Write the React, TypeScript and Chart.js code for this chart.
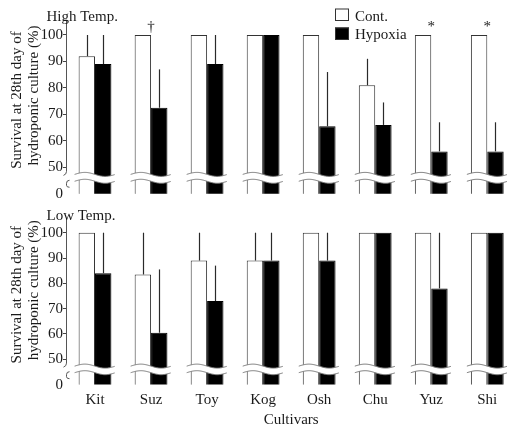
import React, { useEffect, useRef } from 'react';
import { Chart, registerables } from 'chart.js';

Chart.register(...registerables);

// ---------- data ----------
const cultivars = ['Kit', 'Suz', 'Toy', 'Kog', 'Osh', 'Chu', 'Yuz', 'Shi'];
const seriesNames = ['Cont.', 'Hypoxia'];

const highTempCont = [92, 100, 100, 100, 100, 81, 100, 100];
const highTempContErr = [8, 0, 0, 0, 0, 10, 0, 0];
const highTempHyp = [89, 72.5, 89, 100, 65.5, 66, 56, 56];
const highTempHypErr = [11, 14.5, 11, 0, 20.5, 8.5, 11, 11];
const highTempMarks = ['', '†', '', '', '', '', '*', '*'];

const lowTempCont = [100, 83.5, 89, 89, 100, 100, 100, 100];
const lowTempContErr = [0, 16.5, 11, 11, 0, 0, 0, 0];
const lowTempHyp = [84, 60.5, 73, 89, 89, 100, 78, 100];
const lowTempHypErr = [16, 25, 14, 11, 11, 0, 22, 0];
const lowTempMarks = ['', '', '', '', '', '', '', ''];

// 40 is where the broken axis shows its "0"
const yTickValues = [40, 50, 60, 70, 80, 90, 100];
const yTickLabels = ['0', '50', '60', '70', '80', '90', '100'];
const yAxisTitle = ['Survival at 28th day of', 'hydroponic culture (%)'];
const xAxisTitle = 'Cultivars';
const panelTitles = ['High Temp.', 'Low Temp.'];

// ---------- style ----------
const FONT = "'Liberation Serif', 'Times New Roman', serif";
const INK = '#1a1a1a';
const Y_MIN = 40;
const Y_MAX = 105.5;
const BREAK_UPPER = 47.3;
const BREAK_LOWER = 44.7;
const CANVAS_W = 516;

type Panel = {
  title: string;
  cont: number[];
  contErr: number[];
  hyp: number[];
  hypErr: number[];
  marks: string[];
  legend: boolean;
  showX: boolean;
  height: number;
  top: number;
  padTop: number;
  padBottom: number;
  titleBaseline: number;
};

const panels: Panel[] = [
  {
    title: panelTitles[0], cont: highTempCont, contErr: highTempContErr, hyp: highTempHyp, hypErr: highTempHypErr,
    marks: highTempMarks, legend: true, showX: false, height: 200, top: 0, padTop: 20.45, padBottom: 6.3, titleBaseline: 20.5,
  },
  {
    title: panelTitles[1], cont: lowTempCont, contErr: lowTempContErr, hyp: lowTempHyp, hypErr: lowTempHypErr,
    marks: lowTempMarks, legend: false, showX: true, height: 230, top: 200, padTop: 18.8, padBottom: 0, titleBaseline: 20,
  },
];

function decorPlugin(p: Panel) {
  return {
    id: 'panelDecor',
    afterDatasetsDraw(chart: any) {
      const ctx = chart.ctx as CanvasRenderingContext2D;
      const ys = chart.scales.y;
      const area = chart.chartArea;
      const metas = [chart.getDatasetMeta(0), chart.getDatasetMeta(1)];
      const vals = [p.cont, p.hyp];
      const errs = [p.contErr, p.hypErr];
      ctx.save();

      // error bars (upper only)
      ctx.strokeStyle = '#2a2a2a';
      ctx.lineWidth = 1.2;
      metas.forEach((m: any, d: number) => {
        m.data.forEach((bar: any, i: number) => {
          const e = errs[d][i];
          if (!e) return;
          const x = Math.round(bar.x) + 0.5;
          ctx.beginPath();
          ctx.moveTo(x, bar.y);
          ctx.lineTo(x, ys.getPixelForValue(vals[d][i] + e));
          ctx.stroke();
        });
      });

      // axis breaks across each bar pair
      const yU = ys.getPixelForValue(BREAK_UPPER);
      const yL = ys.getPixelForValue(BREAK_LOWER);
      cultivars.forEach((_, i) => {
        const a = metas[0].data[i];
        const b = metas[1].data[i];
        const left = a.x - a.width / 2 - 4;
        const right = b.x + b.width / 2 + 4;
        const wave = (x: number, y0: number) => y0 - 2 * Math.sin((2 * Math.PI * (x - left)) / (right - left));
        ctx.beginPath();
        ctx.moveTo(left, wave(left, yU));
        for (let x = left; x <= right; x += 1) ctx.lineTo(x, wave(x, yU));
        ctx.lineTo(right, wave(right, yL));
        for (let x = right; x >= left; x -= 1) ctx.lineTo(x, wave(x, yL));
        ctx.closePath();
        ctx.fillStyle = '#fff';
        ctx.fill();
        ctx.strokeStyle = '#7a7a7a';
        ctx.lineWidth = 1;
        [yU, yL].forEach((y0) => {
          ctx.beginPath();
          ctx.moveTo(left, wave(left, y0));
          for (let x = left; x <= right; x += 1) ctx.lineTo(x, wave(x, y0));
          ctx.stroke();
        });

        // significance marks
        if (p.marks[i]) {
          const topVal = Math.max(p.cont[i] + p.contErr[i], p.hyp[i] + p.hypErr[i]);
          ctx.fillStyle = INK;
          ctx.font = `15px ${FONT}`;
          ctx.textAlign = 'center';
          ctx.textBaseline = 'middle';
          ctx.fillText(p.marks[i], (a.x + a.width / 2 + b.x - b.width / 2) / 2, ys.getPixelForValue(topVal) - 8);
        }
      });

      // broken y axis line
      const ax = Math.round(area.left) - 0.5;
      ctx.strokeStyle = '#555';
      ctx.lineWidth = 1;
      ctx.beginPath();
      ctx.moveTo(ax, area.top);
      ctx.lineTo(ax, yU - 3);
      ctx.quadraticCurveTo(ax, yU, ax - 3, yU + 1);
      ctx.stroke();
      ctx.beginPath();
      ctx.moveTo(ax + 3, yL - 1);
      ctx.quadraticCurveTo(ax, yL - 1, ax, yL + 2);
      ctx.lineTo(ax, yL + 4);
      ctx.quadraticCurveTo(ax, yL + 6, ax + 3, yL + 6);
      ctx.stroke();

      // panel title
      ctx.fillStyle = INK;
      ctx.font = `15px ${FONT}`;
      ctx.textAlign = 'left';
      ctx.textBaseline = 'alphabetic';
      ctx.fillText(p.title, 46.5, p.titleBaseline);

      // y axis title (two rotated lines)
      const mid = (area.top + area.bottom) / 2;
      ctx.textAlign = 'center';
      [[21, mid - 7], [38, mid - 11.5]].forEach(([bx, cy], k) => {
        ctx.save();
        ctx.translate(bx, cy);
        ctx.rotate(-Math.PI / 2);
        ctx.fillText(yAxisTitle[k], 0, 0);
        ctx.restore();
      });

      // legend
      if (p.legend) {
        const boxes = [
          { fill: '#fff', y: 8.5, base: 20.7 },
          { fill: '#000', y: 27.5, base: 38.7 },
        ];
        boxes.forEach((bx, k) => {
          ctx.fillStyle = bx.fill;
          ctx.fillRect(335, bx.y, 14, 12.5);
          ctx.strokeStyle = '#333';
          ctx.lineWidth = 1;
          ctx.strokeRect(335.5, bx.y + 0.5, 13, 11.5);
          ctx.fillStyle = INK;
          ctx.textAlign = 'left';
          ctx.fillText(seriesNames[k], 355, bx.base);
        });
      }
      ctx.restore();
    },
  };
}

function makeConfig(p: Panel): any {
  const common = { borderWidth: 1, borderSkipped: false, categoryPercentage: 0.585, barPercentage: 1 };
  return {
    type: 'bar',
    data: {
      labels: cultivars,
      datasets: [
        { label: seriesNames[0], data: p.cont, backgroundColor: '#ffffff', borderColor: '#333333', ...common },
        { label: seriesNames[1], data: p.hyp, backgroundColor: '#000000', borderColor: '#000000', ...common },
      ],
    },
    options: {
      responsive: false,
      animation: false,
      devicePixelRatio: 1,
      events: [],
      layout: { padding: { left: 0, right: 0.7, top: p.padTop, bottom: p.padBottom } },
      plugins: { legend: { display: false }, tooltip: { enabled: false }, title: { display: false } },
      scales: {
        x: {
          display: p.showX,
          offset: true,
          grid: { display: false, drawTicks: false },
          border: { display: false },
          ticks: { color: INK, font: { family: FONT, size: 15 }, padding: 6, maxRotation: 0, autoSkip: false },
          title: { display: p.showX, text: xAxisTitle, color: INK, font: { family: FONT, size: 15 }, padding: { top: 0, bottom: 1 } },
          afterFit: (s: any) => {
            s.height = p.showX ? 45.4 : 0;
            s.paddingLeft = 0;
            s.paddingRight = 0;
          },
        },
        y: {
          min: Y_MIN,
          max: Y_MAX,
          afterBuildTicks: (s: any) => {
            s.ticks = yTickValues.map((v) => ({ value: v }));
          },
          afterFit: (s: any) => {
            s.width = 67;
            s.paddingTop = 0;
            s.paddingBottom = 0;
          },
          ticks: {
            color: INK,
            font: { family: FONT, size: 15 },
            padding: 0,
            callback: (v: number) => {
              const k = yTickValues.indexOf(v);
              return k >= 0 ? yTickLabels[k] : '';
            },
          },
          grid: {
            display: true,
            drawOnChartArea: false,
            drawTicks: true,
            tickLength: 4,
            lineWidth: 1,
            tickColor: (c: any) => (c.tick && c.tick.value === Y_MIN ? 'rgba(0,0,0,0)' : '#444'),
          },
          border: { display: false },
        },
      },
    },
    plugins: [decorPlugin(p)],
  };
}

function PanelChart({ p }: { p: Panel }) {
  const ref = useRef<HTMLCanvasElement>(null);
  useEffect(() => {
    const chart = new Chart(ref.current as HTMLCanvasElement, makeConfig(p));
    return () => chart.destroy();
  }, []);
  return (
    <canvas
      ref={ref}
      width={CANVAS_W}
      height={p.height}
      style={{ position: 'absolute', left: 0, top: p.top, width: CANVAS_W, height: p.height, display: 'block' }}
    />
  );
}

export default function App() {
  return (
    <div style={{ position: 'fixed', left: 0, top: 0, width: 508, height: 430, background: '#fff', overflow: 'hidden' }}>
      {panels.map((p, i) => (
        <PanelChart key={i} p={p} />
      ))}
    </div>
  );
}
